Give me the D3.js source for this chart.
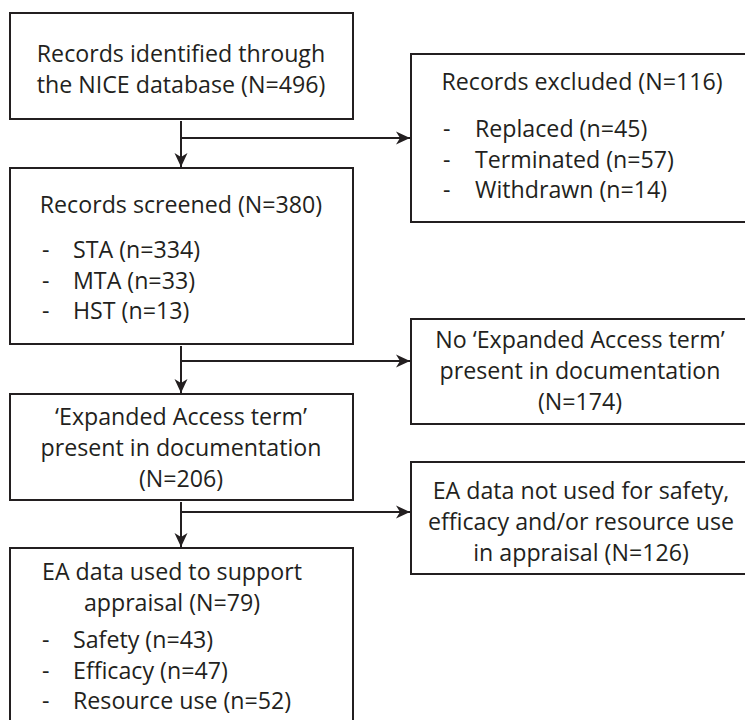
<!DOCTYPE html>
<html>
<head>
<meta charset="utf-8">
<script src="https://cdn.jsdelivr.net/npm/d3@7"></script>
<style>
  body { margin: 0; background: #fff; }
  text { font-family: "Open Sans", "Noto Sans", sans-serif; fill: #231f20; }
</style>
</head>
<body>
<div id="chart"></div>
<script>
// box texts (main column, top to bottom)
const mainTitles = [
  ["Records identified through", "the NICE database (N=496)"],
  ["Records screened (N=380)"],
  ["\u2018Expanded Access term\u2019", "present in documentation", "(N=206)"],
  ["EA data used to support", "appraisal (N=79)"]
];
const mainItems = [
  [],
  ["STA (n=334)", "MTA (n=33)", "HST (n=13)"],
  [],
  ["Safety (n=43)", "Efficacy (n=47)", "Resource use (n=52)"]
];
// side boxes (exclusions)
const sideTitles = [
  ["Records excluded (N=116)"],
  ["No \u2018Expanded Access term\u2019", "present in documentation", "(N=174)"],
  ["EA data not used for safety,", "efficacy and/or resource use", "in appraisal (N=126)"]
];
const sideItems = [
  ["Replaced (n=45)", "Terminated (n=57)", "Withdrawn (n=14)"],
  [],
  []
];

// layout
const w = 745, h = 720;
const ink = "#231f20";
const fs = "23.2px";
const lineH = 31;
const mainX = [10, 353], sideX = [411, 746];
const stemX = 181;
const mainBox = [
  {y0: 13, y1: 119, first: 62, cx: 181, gap: 0},
  {y0: 168, y1: 344, first: 213, cx: 181, gap: 45},
  {y0: 394, y1: 500, first: 425, cx: 181, gap: 0},
  {y0: 548, y1: 724, first: 580, cx: 172, gap: 37}
];
const sideBox = [
  {y0: 54, y1: 222, first: 90, cx: 582, gap: 47},
  {y0: 319, y1: 424, first: 348, cx: 580, gap: 0},
  {y0: 462, y1: 574, first: 499, cx: 581, gap: 0}
];
const branchY = [138, 361, 512];

const svg = d3.select("#chart").append("svg")
    .attr("width", w).attr("height", h)
    .attr("viewBox", "0 0 " + w + " " + h);

svg.append("defs").append("marker")
    .attr("id", "arrow")
    .attr("viewBox", "-14 -7 15 14")
    .attr("refX", 0).attr("refY", 0)
    .attr("markerWidth", 15).attr("markerHeight", 14)
    .attr("markerUnits", "userSpaceOnUse")
    .attr("orient", "auto")
    .append("path")
    .attr("d", "M0,0L-14,-6.5L-10,0L-14,6.5Z")
    .attr("fill", ink);

function drawBox(b, xr, titles, items, dashX, textX) {
  const g = svg.append("g");
  g.append("rect")
      .attr("x", xr[0]).attr("y", b.y0)
      .attr("width", xr[1] - xr[0]).attr("height", b.y1 - b.y0)
      .attr("fill", "none").attr("stroke", ink).attr("stroke-width", 2);
  g.selectAll("text.title")
      .data(titles)
      .enter().append("text")
      .attr("class", "title")
      .attr("x", b.cx)
      .attr("y", (d, i) => b.first + i * lineH)
      .attr("text-anchor", "middle")
      .style("font-size", fs)
      .text(d => d);
  const y0 = b.first + (titles.length - 1) * lineH + b.gap;
  const it = g.selectAll("g.item")
      .data(items)
      .enter().append("g")
      .attr("class", "item")
      .attr("transform", (d, i) => "translate(0," + (y0 + i * 30.5) + ")");
  it.append("text").attr("x", dashX).style("font-size", fs).text("-");
  it.append("text").attr("x", textX).style("font-size", fs).text(d => d);
}

mainBox.forEach((b, i) => drawBox(b, mainX, mainTitles[i], mainItems[i], 42, 73));
sideBox.forEach((b, i) => drawBox(b, sideX, sideTitles[i], sideItems[i], 443, 475));

// connectors
const lineStyle = sel => sel.attr("stroke", ink).attr("stroke-width", 2).attr("fill", "none");
for (let i = 0; i < 3; i++) {
  svg.append("line").call(lineStyle)
      .attr("x1", stemX).attr("y1", mainBox[i].y1 + 2)
      .attr("x2", stemX).attr("y2", mainBox[i + 1].y0 - 1)
      .attr("marker-end", "url(#arrow)");
  svg.append("line").call(lineStyle)
      .attr("x1", stemX).attr("y1", branchY[i])
      .attr("x2", sideX[0] - 1).attr("y2", branchY[i])
      .attr("marker-end", "url(#arrow)");
}
</script>
</body>
</html>
